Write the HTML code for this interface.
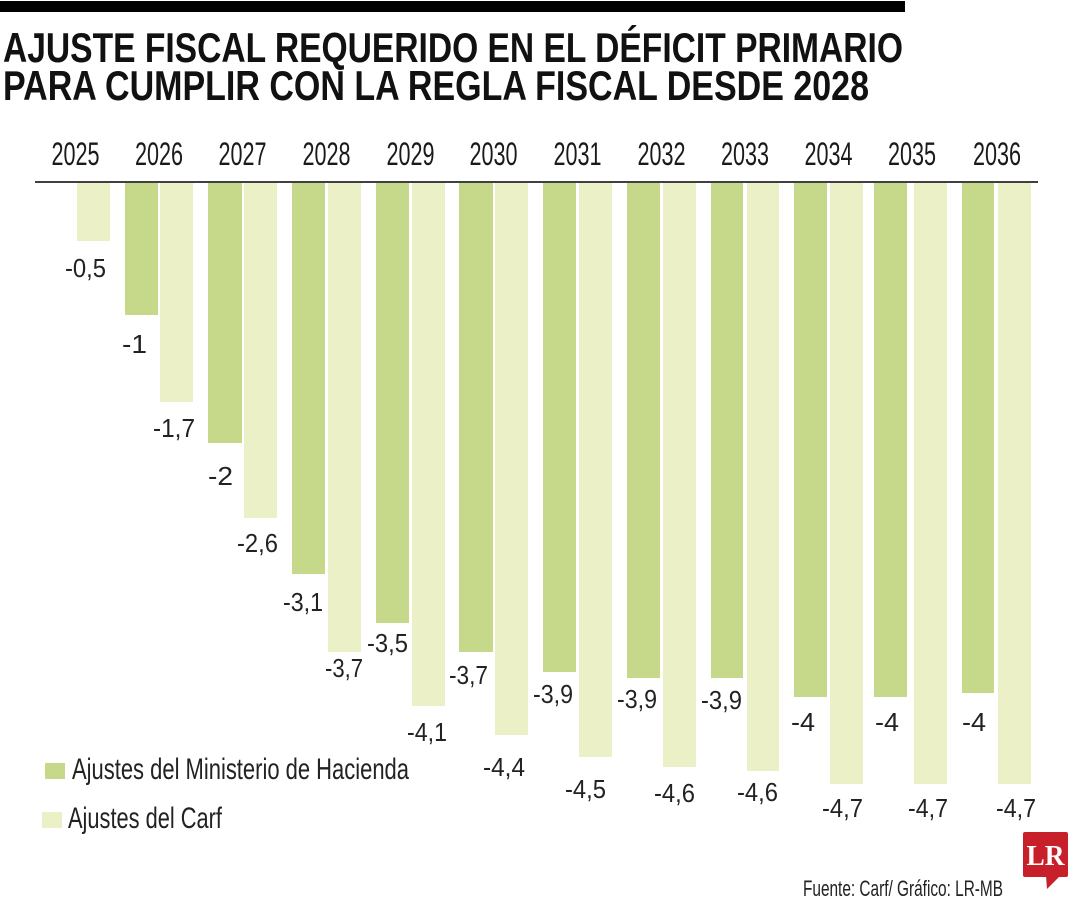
<!DOCTYPE html>
<html>
<head>
<meta charset="utf-8">
<style>
html,body{margin:0;padding:0;background:#fff;}
svg{display:block;}
.t{font-family:"Liberation Sans",sans-serif;font-weight:bold;font-size:42px;fill:#111;}
.y{font-family:"Liberation Sans",sans-serif;font-size:32px;fill:#1a1a1a;}
.v{font-family:"Liberation Sans",sans-serif;font-size:26px;fill:#222;}
.l{font-family:"Liberation Sans",sans-serif;font-size:30px;fill:#222;}
.f{font-family:"Liberation Sans",sans-serif;font-size:22px;fill:#222;}
</style>
</head>
<body>
<svg width="1080" height="900" viewBox="0 0 1080 900" xmlns="http://www.w3.org/2000/svg">
<rect x="0" y="0" width="1080" height="900" fill="#fff"/>
<rect x="0" y="1" width="905" height="11" fill="#000"/>

<text class="t" x="3" y="62" textLength="900" lengthAdjust="spacingAndGlyphs">AJUSTE FISCAL REQUERIDO EN EL DÉFICIT PRIMARIO</text>
<text class="t" x="3" y="100" textLength="866" lengthAdjust="spacingAndGlyphs">PARA CUMPLIR CON LA REGLA FISCAL DESDE 2028</text>

<g class="y" text-anchor="middle">
<text x="75.5" y="165" textLength="48" lengthAdjust="spacingAndGlyphs">2025</text>
<text x="159" y="165" textLength="48" lengthAdjust="spacingAndGlyphs">2026</text>
<text x="242.5" y="165" textLength="48" lengthAdjust="spacingAndGlyphs">2027</text>
<text x="326.5" y="165" textLength="48" lengthAdjust="spacingAndGlyphs">2028</text>
<text x="410.5" y="165" textLength="48" lengthAdjust="spacingAndGlyphs">2029</text>
<text x="493.5" y="165" textLength="48" lengthAdjust="spacingAndGlyphs">2030</text>
<text x="577.5" y="165" textLength="48" lengthAdjust="spacingAndGlyphs">2031</text>
<text x="661.5" y="165" textLength="48" lengthAdjust="spacingAndGlyphs">2032</text>
<text x="745" y="165" textLength="48" lengthAdjust="spacingAndGlyphs">2033</text>
<text x="828.5" y="165" textLength="48" lengthAdjust="spacingAndGlyphs">2034</text>
<text x="912" y="165" textLength="48" lengthAdjust="spacingAndGlyphs">2035</text>
<text x="997" y="165" textLength="48" lengthAdjust="spacingAndGlyphs">2036</text>
</g>

<!-- bars -->
<g fill="#c6d98b">
<rect x="125" y="183" width="33" height="132"/>
<rect x="208" y="183" width="34" height="260"/>
<rect x="292" y="183" width="33" height="391"/>
<rect x="376" y="183" width="33" height="440"/>
<rect x="459" y="183" width="34" height="469"/>
<rect x="543" y="183" width="33" height="489"/>
<rect x="627" y="183" width="33" height="495"/>
<rect x="711" y="183" width="32" height="495"/>
<rect x="794" y="183" width="33" height="514"/>
<rect x="874" y="183" width="33" height="514"/>
<rect x="962" y="183" width="32" height="510"/>
</g>
<g fill="#ebf0c7">
<rect x="77" y="183" width="33" height="58"/>
<rect x="160" y="183" width="33" height="219"/>
<rect x="244" y="183" width="33" height="335"/>
<rect x="328" y="183" width="33" height="469"/>
<rect x="412" y="183" width="33" height="523"/>
<rect x="495" y="183" width="33" height="552"/>
<rect x="579" y="183" width="33" height="574"/>
<rect x="663" y="183" width="33" height="584"/>
<rect x="747" y="183" width="32" height="588"/>
<rect x="830" y="183" width="33" height="601"/>
<rect x="914" y="183" width="33" height="601"/>
<rect x="998" y="183" width="33" height="601"/>
</g>

<line x1="35" y1="182" x2="1038" y2="182" stroke="#000" stroke-width="1.6"/>

<!-- value labels -->
<g class="v">
<text x="65" y="277" textLength="41" lengthAdjust="spacingAndGlyphs">-0,5</text>
<text x="122" y="353" textLength="25" lengthAdjust="spacingAndGlyphs">-1</text>
<text x="153" y="437" textLength="42" lengthAdjust="spacingAndGlyphs">-1,7</text>
<text x="208" y="485" textLength="25" lengthAdjust="spacingAndGlyphs">-2</text>
<text x="237" y="552" textLength="41" lengthAdjust="spacingAndGlyphs">-2,6</text>
<text x="283" y="611" textLength="40" lengthAdjust="spacingAndGlyphs">-3,1</text>
<text x="325" y="677" textLength="38" lengthAdjust="spacingAndGlyphs">-3,7</text>
<text x="367" y="652" textLength="41" lengthAdjust="spacingAndGlyphs">-3,5</text>
<text x="407" y="741" textLength="40" lengthAdjust="spacingAndGlyphs">-4,1</text>
<text x="449" y="684" textLength="39" lengthAdjust="spacingAndGlyphs">-3,7</text>
<text x="483" y="776" textLength="42" lengthAdjust="spacingAndGlyphs">-4,4</text>
<text x="533" y="703" textLength="40" lengthAdjust="spacingAndGlyphs">-3,9</text>
<text x="565" y="798" textLength="41" lengthAdjust="spacingAndGlyphs">-4,5</text>
<text x="617" y="708" textLength="40" lengthAdjust="spacingAndGlyphs">-3,9</text>
<text x="654" y="802" textLength="41" lengthAdjust="spacingAndGlyphs">-4,6</text>
<text x="701" y="709" textLength="41" lengthAdjust="spacingAndGlyphs">-3,9</text>
<text x="737" y="801" textLength="41" lengthAdjust="spacingAndGlyphs">-4,6</text>
<text x="791" y="731" textLength="24" lengthAdjust="spacingAndGlyphs">-4</text>
<text x="822" y="817" textLength="41" lengthAdjust="spacingAndGlyphs">-4,7</text>
<text x="875" y="731" textLength="24" lengthAdjust="spacingAndGlyphs">-4</text>
<text x="908" y="817" textLength="40" lengthAdjust="spacingAndGlyphs">-4,7</text>
<text x="962" y="731" textLength="24" lengthAdjust="spacingAndGlyphs">-4</text>
<text x="996" y="817" textLength="40" lengthAdjust="spacingAndGlyphs">-4,7</text>
</g>

<!-- legend -->
<rect x="45" y="763" width="20" height="16" fill="#c6d98b"/>
<text class="l" x="72" y="779" textLength="337" lengthAdjust="spacingAndGlyphs">Ajustes del Ministerio de Hacienda</text>
<rect x="42" y="812" width="20" height="16" fill="#ebf0c7"/>
<text class="l" x="68" y="828" textLength="154" lengthAdjust="spacingAndGlyphs">Ajustes del Carf</text>

<!-- footer -->
<text class="f" x="803" y="896" textLength="200" lengthAdjust="spacingAndGlyphs">Fuente: Carf/ Gráfico: LR-MB</text>

<!-- LR logo -->
<rect x="1023" y="832" width="45" height="45" rx="2" fill="#c8202a"/>
<polygon points="1046,876 1060,876 1047,889" fill="#c8202a"/>
<text x="1045.5" y="865" text-anchor="middle" font-family="Liberation Serif, serif" font-weight="bold" font-size="28" fill="#fff" textLength="38" lengthAdjust="spacingAndGlyphs">LR</text>
</svg>
</body>
</html>
